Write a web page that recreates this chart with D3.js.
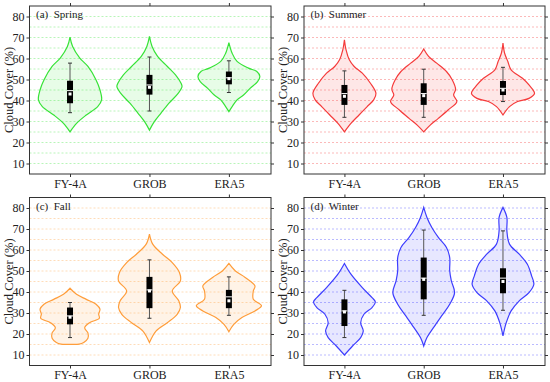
<!DOCTYPE html>
<html>
<head>
<meta charset="utf-8">
<script src="https://cdn.jsdelivr.net/npm/d3@7"></script>
<style>
  body { margin: 0; background: #fff; }
  svg { display: block; }
</style>
</head>
<body>
<div id="chart"></div>
<script>
const categories = ["FY-4A", "GROB", "ERA5"];
const seasons = ["Spring", "Summer", "Fall", "Winter"];
const panelTags = ["(a)", "(b)", "(c)", "(d)"];
const seasonColors = ["#37e337", "#f53b3b", "#ff9d3a", "#3d3dff"];
const yTicks = [10, 20, 30, 40, 50, 60, 70, 80];
const gridValues = [10, 15, 20, 25, 30, 35, 40, 45, 50, 55, 60, 65, 70, 75, 80];

// violin outlines: [cloud cover %, relative half width]
const springViolins = [
  [[70.2,0],[65.7,0.08],[60.2,0.30],[56.2,0.55],[49.8,0.80],[45.0,0.92],[40.3,0.97],[37.1,0.85],[33.1,0.50],[29.1,0.20],[25.1,0]],
  [[70.5,0],[65.7,0.08],[61.0,0.25],[56.2,0.55],[52.2,0.80],[48.2,0.97],[46.6,1.00],[43.4,0.88],[38.7,0.60],[33.9,0.35],[29.9,0.15],[25.9,0]],
  [[67.6,0],[62.5,0.10],[58.6,0.25],[55.4,0.60],[53.9,0.85],[51.4,0.95],[49.0,0.88],[45.8,0.65],[42.6,0.45],[40.3,0.25],[37.1,0.10],[34.7,0]]
];
const summerViolins = [
  [[68.9,0],[64.1,0.05],[59.4,0.15],[56.2,0.30],[53.0,0.55],[48.2,0.80],[43.4,0.97],[40.3,0.90],[37.1,0.70],[33.1,0.45],[29.1,0.20],[25.1,0]],
  [[64.5,0],[61.0,0.15],[57.8,0.40],[53.8,0.70],[49.8,0.88],[45.4,0.98],[42.6,0.92],[39.5,1.02],[35.5,0.75],[31.5,0.45],[28.3,0.20],[25.1,0]],
  [[67.3,0],[62.5,0.05],[58.6,0.15],[54.6,0.25],[50.6,0.60],[47.4,0.80],[43.4,0.97],[41.0,0.80],[39.5,0.45],[37.1,0.20],[33.1,0]]
];
const fallViolins = [
  [[41.8,0],[38.9,0.20],[36.5,0.50],[34.2,0.80],[31.8,0.92],[29.5,0.88],[27.5,0.90],[25.4,0.60],[23.0,0.45],[20.5,0.55],[18.0,0.55],[16.0,0.42],[15.2,0.28],[15.1,0]],
  [[67.6,0],[62.8,0.10],[58.0,0.40],[54.0,0.70],[49.3,0.92],[45.3,0.95],[40.5,0.70],[35.8,0.90],[32.6,0.95],[29.4,0.85],[25.4,0.55],[21.4,0.20],[15.9,0]],
  [[53.6,0],[50.0,0.20],[46.9,0.50],[42.9,0.80],[40.5,0.75],[36.5,0.75],[33.4,1.00],[31.0,0.80],[27.8,0.40],[24.6,0.15],[21.1,0]]
];
const winterViolins = [
  [[53.6,0],[48.5,0.20],[42.1,0.55],[37.3,0.85],[35.3,0.95],[32.6,0.85],[29.4,0.60],[25.4,0.50],[21.4,0.58],[18.3,0.50],[14.3,0.25],[10.0,0]],
  [[80.3,0],[75.5,0.10],[70.7,0.25],[66.0,0.45],[61.2,0.70],[56.4,0.80],[50.1,0.80],[45.3,0.85],[39.7,0.95],[34.2,0.80],[28.6,0.55],[23.0,0.30],[18.3,0.10],[14.3,0]],
  [[80.3,0],[75.5,0.12],[69.1,0.12],[62.8,0.20],[58.0,0.50],[53.2,0.75],[47.7,0.88],[43.7,0.95],[39.7,0.80],[35.8,0.50],[31.0,0.25],[25.4,0.10],[19.1,0]]
];

// box stats: [lower whisker, Q1, median, mean, Q3, upper whisker]
const springBoxes = [[34.2,38.7,44.7,43.1,49.4,57.8],[35.0,42.8,47.4,46.3,52.2,60.7],[43.8,47.7,50.8,50.4,53.8,58.9]];
const summerBoxes = [[32.0,37.9,43.3,42.0,47.4,54.1],[32.0,37.9,43.3,42.3,48.2,54.9],[39.5,42.6,45.8,45.0,49.3,55.8]];
const fallBoxes   = [[18.3,24.6,28.6,28.0,32.6,35.0],[27.5,32.3,41.0,40.5,47.2,55.3],[28.9,32.3,37.7,35.8,41.0,47.2]];
const winterBoxes = [[18.3,23.8,31.0,30.5,36.5,40.8],[28.9,36.5,46.6,46.0,56.4,69.5],[31.3,39.4,46.6,45.0,51.3,69.1]];

const allViolins = [springViolins, summerViolins, fallViolins, winterViolins];
const allBoxes = [springBoxes, summerBoxes, fallBoxes, winterBoxes];

var W = 550, H = 382,
    FONT = "'Liberation Serif', 'Times New Roman', Tinos, 'DejaVu Serif', serif";
var frames = [
  {x: 29.5, y: 6,     w: 241.5, h: 168},
  {x: 304,  y: 6,     w: 241,   h: 168},
  {x: 29.5, y: 197.5, w: 241.5, h: 168},
  {x: 304,  y: 197.5, w: 241,   h: 168}
];

var svg = d3.select("#chart").append("svg")
    .attr("width", W)
    .attr("height", H)
    .style("font-family", FONT);

seasons.forEach(function(season, si) {
    var f = frames[si],
        color = seasonColors[si],
        g = svg.append("g").attr("transform", "translate(" + f.x + "," + f.y + ")");

    var x = d3.scaleLinear().domain([0.49, 3.53]).range([0, f.w]),
        y = d3.scaleLinear().domain([5, 85]).range([f.h, 0]),
        halfW = d3.scaleLinear().domain([0, 1]).range([0, 0.41 * (x(2) - x(1))]);

    // dashed grid
    g.selectAll(".grid")
        .data(gridValues)
        .enter().append("line")
        .attr("x1", 0).attr("x2", f.w)
        .attr("y1", function(d) { return y(d); })
        .attr("y2", function(d) { return y(d); })
        .attr("stroke", color)
        .attr("stroke-opacity", 0.45)
        .attr("stroke-width", 0.8)
        .attr("stroke-dasharray", "2,2");

    // violins
    allViolins[si].forEach(function(profile, ci) {
        var cx = x(ci + 1);
        var area = d3.area()
            .curve(d3.curveCatmullRom.alpha(0.5))
            .y(function(d) { return y(d[0]); })
            .x0(function(d) { return cx - halfW(d[1]); })
            .x1(function(d) { return cx + halfW(d[1]); });
        g.append("path")
            .attr("d", area(profile))
            .attr("fill", color)
            .attr("fill-opacity", 0.12)
            .attr("stroke", color)
            .attr("stroke-width", 1.2);
    });

    // boxes
    allBoxes[si].forEach(function(b, ci) {
        var cx = x(ci + 1), bw = 6, cap = 4;
        var bg = g.append("g");
        bg.append("line")
            .attr("x1", cx).attr("x2", cx)
            .attr("y1", y(b[0])).attr("y2", y(b[5]))
            .attr("stroke", "#555").attr("stroke-width", 1);
        [b[0], b[5]].forEach(function(v) {
            bg.append("line")
                .attr("x1", cx - cap / 2).attr("x2", cx + cap / 2)
                .attr("y1", y(v)).attr("y2", y(v))
                .attr("stroke", "#333").attr("stroke-width", 1);
        });
        bg.append("rect")
            .attr("x", cx - bw / 2)
            .attr("width", bw)
            .attr("y", y(b[4]))
            .attr("height", y(b[1]) - y(b[4]))
            .attr("fill", "#000");
        bg.append("line")
            .attr("x1", cx - bw / 2).attr("x2", cx + bw / 2)
            .attr("y1", y(b[2])).attr("y2", y(b[2]))
            .attr("stroke", "#fff").attr("stroke-width", 1);
        bg.append("rect")
            .attr("x", cx - 1.5).attr("y", y(b[3]) - 1.5)
            .attr("width", 3).attr("height", 3)
            .attr("fill", "#fff");
    });

    // axes
    var yl = g.append("g")
        .call(d3.axisLeft(y).tickValues(yTicks).tickSize(3).tickPadding(2));
    var yr = g.append("g")
        .attr("transform", "translate(" + f.w + ",0)")
        .call(d3.axisRight(y).tickValues(yTicks).tickSize(3).tickFormat(""));
    var xb = g.append("g")
        .attr("transform", "translate(0," + f.h + ")")
        .call(d3.axisBottom(x).tickValues([1, 2, 3]).tickSize(3).tickPadding(2)
            .tickFormat(function(d) { return categories[d - 1]; }));
    var xt = g.append("g")
        .call(d3.axisTop(x).tickValues([1, 2, 3]).tickSize(3).tickFormat(""));

    [yl, yr, xb, xt].forEach(function(a) {
        a.attr("font-family", null).attr("font-size", null);
        a.select(".domain").remove();
        a.selectAll(".tick line").attr("stroke", "#333");
        a.selectAll("text")
            .style("font-family", FONT)
            .style("font-size", "12px")
            .attr("fill", "#222");
    });

    g.append("rect")
        .attr("width", f.w).attr("height", f.h)
        .attr("fill", "none")
        .attr("stroke", "#333")
        .attr("stroke-width", 1);

    g.append("text")
        .attr("transform", "translate(-21," + (f.h / 2) + ") rotate(-90)")
        .attr("text-anchor", "middle")
        .attr("dy", "0.35em")
        .attr("fill", "#222")
        .style("font-family", FONT)
        .style("font-size", "12.5px")
        .text("Cloud Cover (%)");

    g.append("text")
        .attr("x", 6.5)
        .attr("y", 12)
        .attr("fill", "#222")
        .style("font-family", FONT)
        .style("font-size", "11px")
        .style("white-space", "pre")
        .text(panelTags[si] + "  " + season);
});
</script>
</body>
</html>
